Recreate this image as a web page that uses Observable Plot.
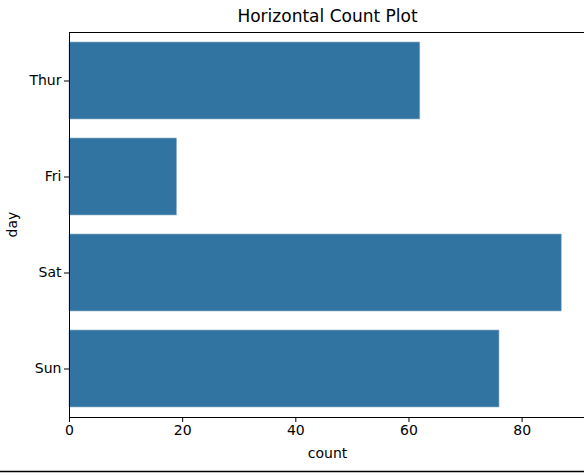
<!DOCTYPE html>
<html>
<head>
<meta charset="utf-8">
<script src="https://cdn.jsdelivr.net/npm/d3@7"></script>
<script src="https://cdn.jsdelivr.net/npm/@observablehq/plot@0.6"></script>
<style>
  html, body { margin: 0; padding: 0; background: #fff; }
  svg { display: block; }
</style>
</head>
<body>
<div id="chart"></div>
<script>
const days = ["Thur", "Fri", "Sat", "Sun"];
const counts = [62, 19, 87, 76];
const xTicks = [0, 20, 40, 60, 80];
const titleText = "Horizontal Count Plot";
const xLabel = "count";
const yLabel = "day";

const data = days.map((d, i) => ({day: d, count: counts[i]}));

const W = 584, H = 473, mL = 69, mT = 32, mB = 56, mR = -1;
const tickFont = 14;

const chart = Plot.plot({
  width: W,
  height: H,
  marginLeft: mL,
  marginTop: mT,
  marginBottom: mB,
  marginRight: mR,
  style: {fontFamily: "DejaVu Sans", fontSize: tickFont + "px", color: "#000", background: "#fff"},
  x: {domain: [0, 91.2]},
  y: {domain: days, paddingInner: 0.2, paddingOuter: 0.1},
  marks: [
    Plot.barX(data, {x: "count", y: "day", fill: "#3274a1", stroke: "#8fb1ca", strokeWidth: 0.6}),
    Plot.frame({stroke: "#000", strokeWidth: 1}),
    Plot.axisX({ticks: xTicks, tickSize: 5, tickPadding: 3, label: null, fontSize: tickFont}),
    Plot.axisY({tickSize: 5, tickPadding: 3, label: null, fontSize: tickFont})
  ]
});

const svg = d3.select(chart);
svg.append("text")
  .attr("x", (mL + 586) / 2).attr("y", 16)
  .attr("text-anchor", "middle").attr("dominant-baseline", "central")
  .attr("font-family", "DejaVu Sans").attr("font-size", 17).attr("fill", "#000")
  .text(titleText);
svg.append("text")
  .attr("x", (mL + 586) / 2).attr("y", 453)
  .attr("text-anchor", "middle").attr("dominant-baseline", "central")
  .attr("font-family", "DejaVu Sans").attr("font-size", tickFont).attr("fill", "#000")
  .text(xLabel);
svg.append("text")
  .attr("transform", `translate(12,${(mT + 417) / 2}) rotate(-90)`)
  .attr("text-anchor", "middle").attr("dominant-baseline", "central")
  .attr("font-family", "DejaVu Sans").attr("font-size", tickFont).attr("fill", "#000")
  .text(yLabel);
svg.append("line")
  .attr("x1", 0).attr("x2", W).attr("y1", 471.5).attr("y2", 471.5)
  .attr("stroke", "#000").attr("stroke-width", 1.5);

document.getElementById("chart").appendChild(chart);
</script>
</body>
</html>
